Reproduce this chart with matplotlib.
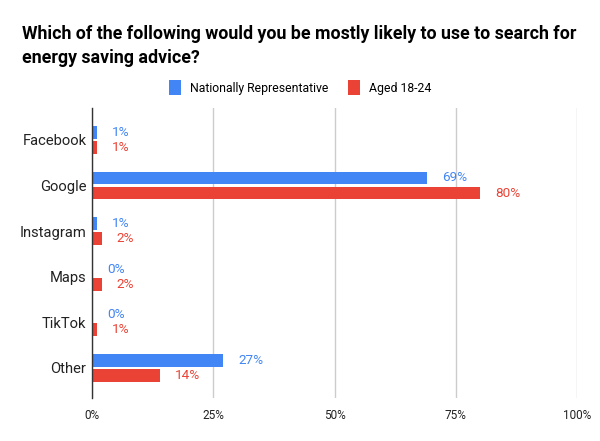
import matplotlib
matplotlib.use("Agg")
import matplotlib.pyplot as plt
import numpy as np

categories = ["Facebook", "Google", "Instagram", "Maps", "TikTok", "Other"]
national = [1, 69, 1, 0, 0, 27]
aged = [1, 80, 2, 2, 1, 14]
series_names = ["Nationally Representative", "Aged 18-24"]
xticks = [0, 25, 50, 75, 100]
xticklabels = ["0%", "25%", "50%", "75%", "100%"]

BLUE = "#4285F4"
RED = "#EA4335"

plt.rcParams['font.family'] = ['Roboto', 'DejaVu Sans']
fig = plt.figure(figsize=(6, 4.41), dpi=100)
ax = fig.add_axes([92/600, 1-398/441, (577-92)/600, (398-108)/441])

y = np.arange(len(categories))
h = 0.28
off = 0.165
ax.barh(y - off, national, height=h, color=BLUE, label=series_names[0], zorder=3)
ax.barh(y + off, aged, height=h, color=RED, label=series_names[1], zorder=3)

for yi, v in zip(y, national):
    ax.text(v + 3.1, yi - off, f"{v}%", va="center", ha="left", color=BLUE, fontsize=9.7)
for yi, v in zip(y, aged):
    ax.text(v + 3.1, yi + off, f"{v}%", va="center", ha="left", color=RED, fontsize=9.7)

ax.set_xlim(0, 100)
ax.set_ylim(5.66, -0.70)
ax.set_yticks(y)
ax.set_yticklabels(categories, fontsize=10.6, color="#222222")
ax.set_xticks(xticks)
ax.set_xticklabels(xticklabels, fontsize=8.5, color="#222222")
ax.tick_params(length=0)
ax.tick_params(axis="y", pad=4)
ax.tick_params(axis="x", pad=8)
ax.grid(axis="x", color="#cccccc", linewidth=1, zorder=0)
for s in ["top", "right", "bottom"]:
    ax.spines[s].set_visible(False)
ax.spines["left"].set_color("#333333")
ax.spines["left"].set_linewidth(1)
ax.spines["left"].set_zorder(4)

fig.text(22/600, 1-46/441, "Which of the following would you be mostly likely to use to search for\nenergy saving advice?",
         fontsize=12.8, fontweight="bold", va="center", ha="left", linespacing=1.4, color="#000000")

leg = fig.legend(loc="center", bbox_to_anchor=(0.5, 1-87.5/441), ncol=2, frameon=False,
                 fontsize=8.8, handlelength=1.0, handleheight=1.45, columnspacing=1.6, handletextpad=0.74)

fig.savefig("out.png", dpi=100)
